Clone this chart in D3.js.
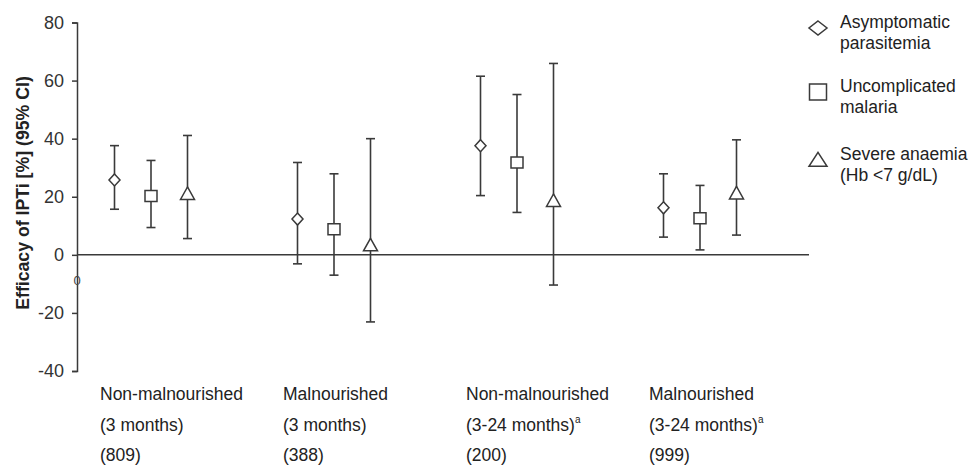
<!DOCTYPE html>
<html>
<head>
<meta charset="utf-8">
<script src="https://cdn.jsdelivr.net/npm/d3@7"></script>
<style>
  html, body { margin: 0; padding: 0; background: #fff; }
  svg { display: block; font-family: "Liberation Sans", Arial, Helvetica, sans-serif; }
</style>
</head>
<body>
<svg id="chart" width="971" height="466"></svg>
<script>
// ---- data ----
const groups = ["g1", "g2", "g3", "g4"];
const groupLine1 = ["Non-malnourished", "Malnourished", "Non-malnourished", "Malnourished"];
const groupLine2 = ["(3 months)", "(3 months)", "(3-24 months)", "(3-24 months)"];
const groupSup = ["", "", "a", "a"];
const groupLine3 = ["(809)", "(388)", "(200)", "(999)"];
const seriesNames = ["Asymptomatic", "Uncomplicated", "Severe"];
const legendLine1 = ["Asymptomatic", "Uncomplicated", "Severe anaemia"];
const legendLine2 = ["parasitemia", "malaria", "(Hb <7 g/dL)"];
const estimates = [
  [25.8, 20.3, 21.0],
  [12.3, 8.8, 3.3],
  [37.6, 31.8, 18.6],
  [16.2, 12.6, 21.2]
];
const lowerCI = [
  [15.7, 9.4, 5.6],
  [-3.1, -7.0, -23.1],
  [20.4, 14.6, -10.4],
  [6.1, 1.7, 6.8]
];
const upperCI = [
  [37.6, 32.5, 41.1],
  [31.8, 27.9, 40.0],
  [61.5, 55.2, 65.9],
  [27.9, 23.9, 39.6]
];
const yTicks = [-40, -20, 0, 20, 40, 60, 80];

// ---- drawing ----
const svg = d3.select("#chart");
const ink = "#3a3a3a";
const textInk = "#222";

const y = d3.scaleLinear().domain([-40, 80]).range([371, 22.5]);
const x = d3.scalePoint().domain(groups).range([151, 700]);
const xs = d3.scalePoint().domain(seriesNames).range([-36.5, 36.5]);

// shapes
function diamond(w, h) { return `M0,${-h/2}L${w/2},0L0,${h/2}L${-w/2},0Z`; }
function square(w, h) { return `M${-w/2},${-h/2}H${w/2}V${h/2}H${-w/2}Z`; }
function triangle(w, h) { return `M0,${-h*0.55}L${w/2},${h*0.45}L${-w/2},${h*0.45}Z`; }
const shapeFns = [diamond, square, triangle];
const plotSizes = [[11, 12], [12, 11], [14, 12.5]];
const legendSizes = [[18, 14], [17, 16], [18, 14]];

// y axis
const yAxis = d3.axisLeft(y).tickValues(yTicks).tickSize(5).tickPadding(8)
  .tickFormat(d => String(d));
const gy = svg.append("g").attr("transform", "translate(77,0)").call(yAxis);
gy.select(".domain").attr("stroke", ink).attr("stroke-width", 1.5);
gy.selectAll(".tick line").attr("stroke", ink).attr("stroke-width", 1.5);
gy.selectAll(".tick text").attr("fill", "#333").style("font-size", "18px")
  .style("font-family", "'Liberation Sans', Arial, sans-serif");

// zero line
svg.append("line")
  .attr("x1", 77).attr("x2", 809)
  .attr("y1", y(0)).attr("y2", y(0))
  .attr("stroke", ink).attr("stroke-width", 1.5);

// stray glyph in the original near the axis
svg.append("text").attr("x", 77).attr("y", 285).attr("text-anchor", "middle")
  .attr("fill", "#444").style("font-size", "13px").text("0");

// y title
svg.append("text")
  .attr("transform", `translate(29,${193}) rotate(-90)`)
  .attr("text-anchor", "middle")
  .attr("fill", textInk)
  .style("font-size", "17.7px").style("font-weight", "bold")
  .text("Efficacy of IPTi [%] (95% CI)");

// error bars & markers
groups.forEach((g, gi) => {
  seriesNames.forEach((s, si) => {
    const cx = x(g) + xs(s);
    const gg = svg.append("g");
    gg.append("line").attr("x1", cx).attr("x2", cx)
      .attr("y1", y(lowerCI[gi][si])).attr("y2", y(upperCI[gi][si]))
      .attr("stroke", ink).attr("stroke-width", 1.6);
    [lowerCI[gi][si], upperCI[gi][si]].forEach(v => {
      gg.append("line").attr("x1", cx - 4.5).attr("x2", cx + 4.5)
        .attr("y1", y(v)).attr("y2", y(v))
        .attr("stroke", ink).attr("stroke-width", 1.6);
    });
    gg.append("path")
      .attr("transform", `translate(${cx},${y(estimates[gi][si])})`)
      .attr("d", shapeFns[si](plotSizes[si][0], plotSizes[si][1]))
      .attr("fill", "#fff").attr("stroke", ink).attr("stroke-width", 1.5);
  });
});

// category labels
groups.forEach((g, gi) => {
  const lx = x(g) - 51;
  const t = svg.append("g").attr("fill", textInk).style("font-size", "17.5px");
  t.append("text").attr("x", lx).attr("y", 400).text(groupLine1[gi]);
  const t2 = t.append("text").attr("x", lx).attr("y", 431).text(groupLine2[gi]);
  if (groupSup[gi]) {
    t2.append("tspan").attr("dy", -8).style("font-size", "10px").text(groupSup[gi]);
  }
  t.append("text").attr("x", lx).attr("y", 461).text(groupLine3[gi]);
});

// legend
const legendY = [28, 92, 160];
seriesNames.forEach((s, si) => {
  const lg = svg.append("g");
  lg.append("path")
    .attr("transform", `translate(818,${legendY[si]})`)
    .attr("d", shapeFns[si](legendSizes[si][0], legendSizes[si][1]))
    .attr("fill", "#fff").attr("stroke", ink).attr("stroke-width", 1.5);
  const ty = legendY[si] - 6;
  lg.append("text").attr("x", 840).attr("y", ty + 6).attr("fill", textInk)
    .style("font-size", "17.5px").text(legendLine1[si]);
  lg.append("text").attr("x", 840).attr("y", ty + 27).attr("fill", textInk)
    .style("font-size", "17.5px").text(legendLine2[si]);
});
</script>
</body>
</html>
